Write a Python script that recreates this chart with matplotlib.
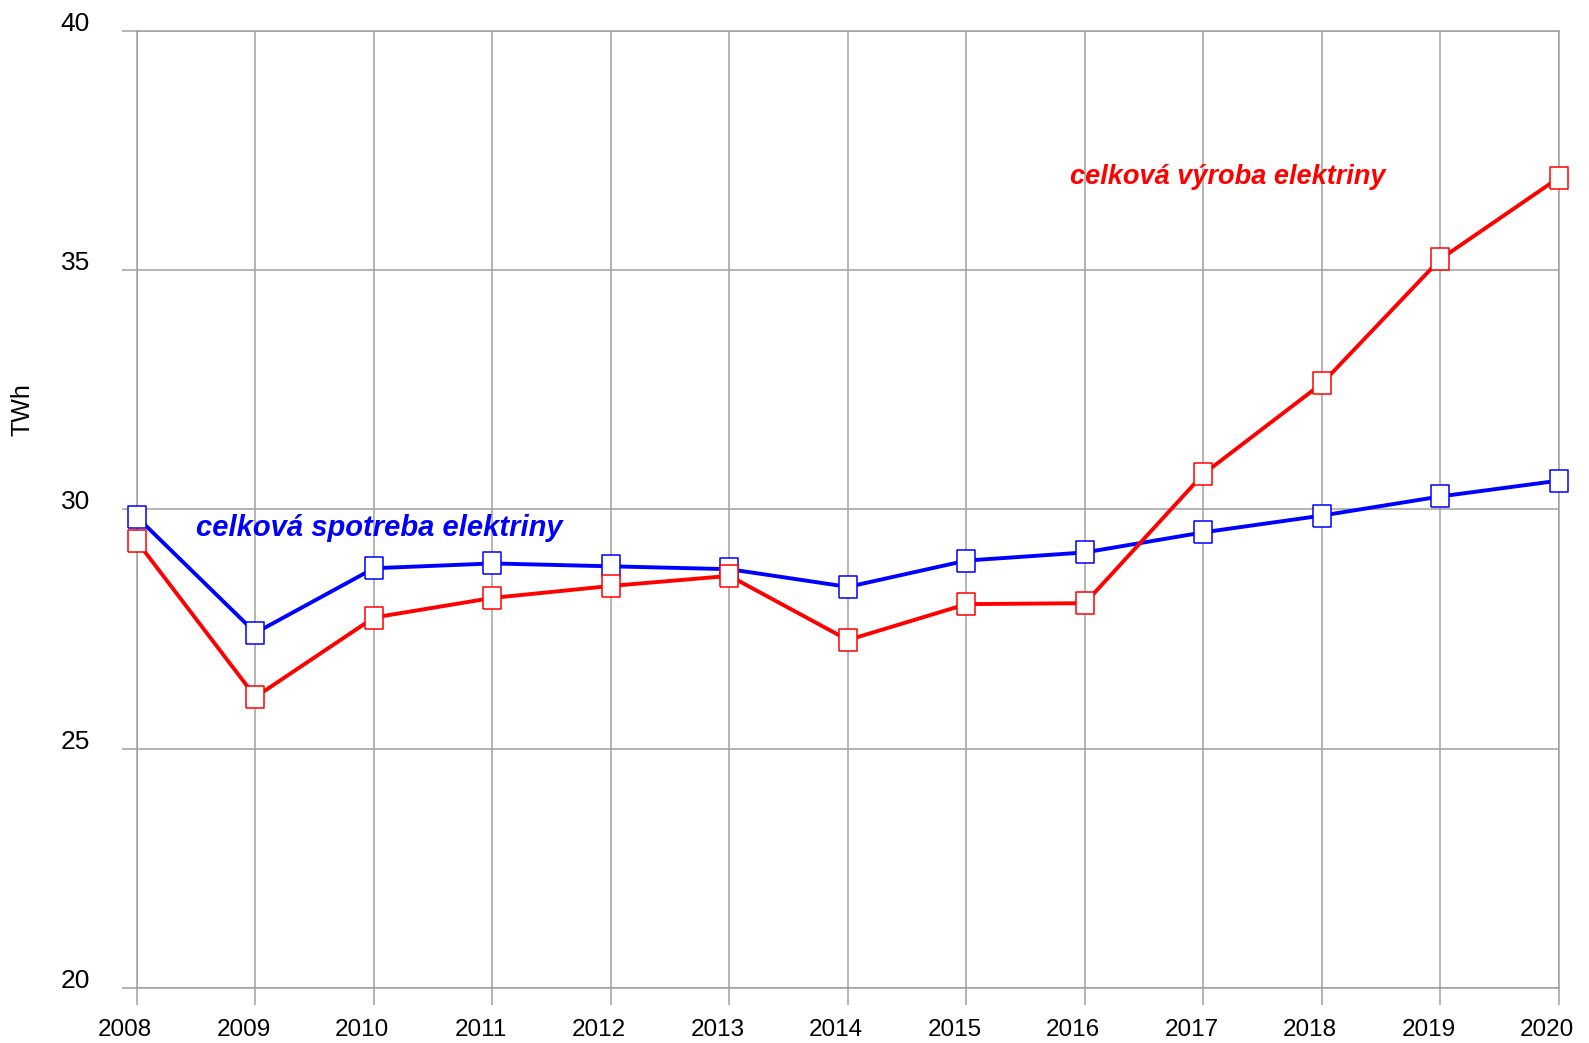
import matplotlib
matplotlib.use("Agg")
import matplotlib.pyplot as plt
import matplotlib.transforms as mtransforms

plt.rcParams['font.family'] = ['Liberation Sans', 'DejaVu Sans']

# données (TWh)
roky = [2008, 2009, 2010, 2011, 2012, 2013, 2014, 2015, 2016, 2017, 2018, 2019, 2020]
spotreba = [29.84, 27.42, 28.77, 28.87, 28.81, 28.75, 28.38, 28.93, 29.10, 29.52, 29.87, 30.27, 30.60]
vyroba = [29.33, 26.08, 27.74, 28.15, 28.40, 28.61, 27.27, 28.02, 28.04, 30.74, 32.63, 35.23, 36.93]
y_ticks = [20, 25, 30, 35, 40]

sivá = "#a0a0a0"
# marker un peu plus haut que large, comme l'original
stvorec = [(-0.82, -1), (0.82, -1), (0.82, 1), (-0.82, 1), (-0.82, -1)]

fig = plt.figure(figsize=(15.89, 10.43), dpi=100)
ax = fig.add_axes([0.0862, 0.0527, 0.8949, 0.9179])

ax.plot(roky, spotreba, color="#0000ff", linewidth=2.8, marker=stvorec,
        markersize=16.5, markerfacecolor="white", markeredgecolor="#0000ff",
        markeredgewidth=1.1, zorder=3, clip_on=False)
ax.plot(roky, vyroba, color="#ff0000", linewidth=2.8, marker=stvorec,
        markersize=16.5, markerfacecolor="white", markeredgecolor="#ff0000",
        markeredgewidth=1.1, zorder=4, clip_on=False)

ax.set_xlim(2008, 2020)
ax.set_ylim(20, 40)
ax.set_xticks(roky)
ax.set_xticklabels([str(r) for r in roky])
ax.set_yticks(y_ticks)
ax.set_yticklabels([str(v) for v in y_ticks])

ax.grid(True, color=sivá, linewidth=1.1)
ax.set_axisbelow(True)
for s in ax.spines.values():
    s.set_color(sivá)
    s.set_linewidth(1.1)

ax.tick_params(axis="x", length=12, width=1.1, color=sivá, labelsize=17.5, pad=10)
ax.tick_params(axis="y", length=11, width=1.1, color=sivá, labelsize=19, pad=23)
plt.setp(ax.get_yticklabels(), va="baseline")

# les années sont un peu décalées à gauche dans l'original
posun = mtransforms.ScaledTranslation(-0.12, 0, fig.dpi_scale_trans)
for lbl in ax.get_xticklabels():
    lbl.set_transform(lbl.get_transform() + posun)

fig.text(0.014, 1 - 410 / 1043, "TWh", rotation=90, fontsize=18,
         ha="center", va="center")

ax.text(2008.5, 29.6, "celková spotreba elektriny", color="#0000ff",
        fontsize=21, fontweight="bold", fontstyle="italic", ha="left", va="center")
ax.text(2015.87, 36.94, "celková výroba elektriny", color="#ff0000",
        fontsize=19.5, fontweight="bold", fontstyle="italic", ha="left", va="center")

fig.savefig("out.png", dpi=100)
